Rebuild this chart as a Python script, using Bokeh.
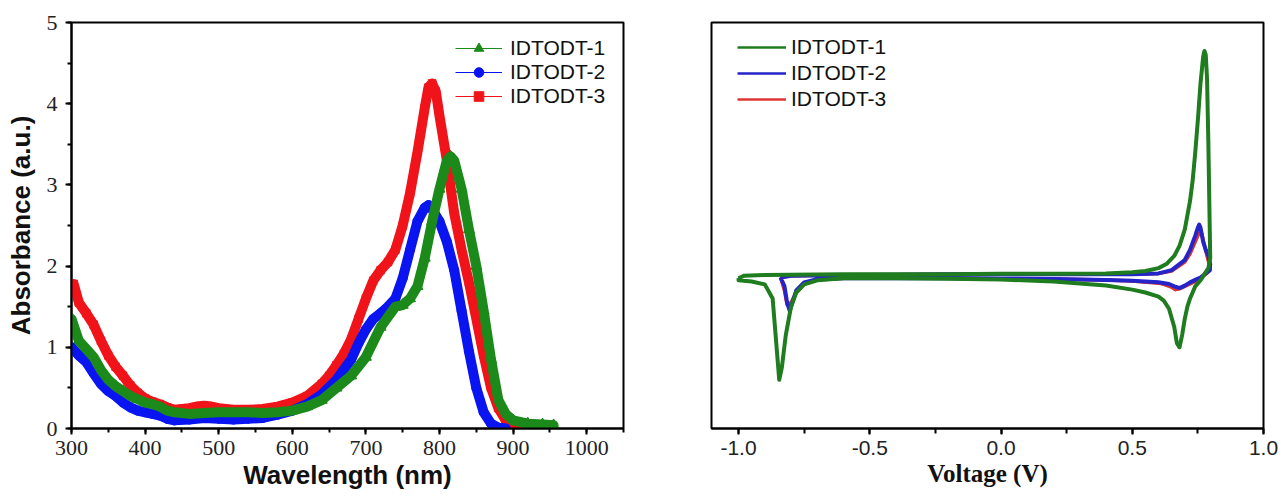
from bokeh.plotting import figure
from bokeh.layouts import row
from bokeh.models import Range1d, SingleIntervalTicker, Legend, LegendItem, PrintfTickFormatter
from bokeh.embed import file_html
from bokeh.resources import INLINE

# ---------------- Left panel: UV-vis absorption ----------------
series_names = ["IDTODT-1", "IDTODT-2", "IDTODT-3"]

wl_1 = [300, 310, 320, 330, 340, 350, 360, 370, 380, 390, 400, 410, 420, 430, 440, 460, 480, 500, 520,
        540, 560, 580, 600, 620, 640, 660, 680, 700, 720, 740, 750, 760, 770, 780, 790, 800, 810, 815,
        820, 830, 840, 850, 860, 870, 880, 890, 900, 920, 940, 955]
abs_1 = [1.35, 1.08, 0.98, 0.88, 0.72, 0.60, 0.52, 0.46, 0.40, 0.36, 0.32, 0.30, 0.27, 0.22, 0.20, 0.18,
         0.19, 0.20, 0.20, 0.20, 0.19, 0.20, 0.22, 0.27, 0.35, 0.50, 0.65, 0.88, 1.25, 1.50, 1.52, 1.60,
         1.75, 2.10, 2.55, 2.95, 3.30, 3.35, 3.30, 2.95, 2.45, 2.00, 1.45, 0.85, 0.35, 0.18, 0.10, 0.06,
         0.05, 0.04]

wl_2 = [300, 310, 320, 330, 340, 350, 360, 370, 380, 390, 400, 410, 420, 430, 440, 460, 480, 500, 520,
        540, 560, 580, 600, 620, 640, 660, 680, 690, 700, 710, 720, 730, 740, 750, 760, 770, 780, 785,
        790, 800, 810, 820, 830, 840, 850, 860, 870, 880, 890]
abs_2 = [1.00, 0.90, 0.82, 0.68, 0.55, 0.46, 0.40, 0.32, 0.26, 0.22, 0.20, 0.18, 0.16, 0.12, 0.10, 0.11,
         0.13, 0.12, 0.11, 0.12, 0.13, 0.17, 0.22, 0.30, 0.42, 0.60, 0.85, 1.05, 1.22, 1.35, 1.42, 1.50,
         1.60, 1.85, 2.20, 2.55, 2.72, 2.75, 2.70, 2.55, 2.30, 1.95, 1.45, 0.95, 0.50, 0.20, 0.06, 0.01,
         0.00]

wl_3 = [300, 303, 310, 320, 330, 340, 350, 360, 370, 380, 390, 400, 410, 420, 430, 440, 450, 460, 470,
        480, 490, 500, 520, 540, 560, 580, 600, 620, 640, 650, 660, 670, 680, 690, 700, 710, 720, 730,
        740, 750, 760, 770, 780, 785, 790, 795, 800, 810, 820, 830, 840, 850, 860, 870, 880, 890, 900, 910]
abs_3 = [1.72, 1.78, 1.55, 1.42, 1.28, 1.08, 0.90, 0.76, 0.65, 0.53, 0.44, 0.37, 0.33, 0.30, 0.26, 0.23,
         0.24, 0.25, 0.27, 0.28, 0.27, 0.25, 0.23, 0.23, 0.24, 0.27, 0.32, 0.40, 0.55, 0.65, 0.78, 0.92,
         1.10, 1.35, 1.60, 1.82, 1.95, 2.05, 2.20, 2.50, 2.90, 3.40, 3.95, 4.20, 4.25, 4.15, 3.85, 3.30,
         2.65, 2.20, 1.80, 1.35, 0.90, 0.50, 0.25, 0.10, 0.03, 0.00]

# ---------------- Right panel: cyclic voltammetry ----------------
v_1 = [-1.0, -0.98, -0.9, -0.8, -0.6, -0.4, -0.2, 0.0, 0.2, 0.4, 0.5, 0.55, 0.6, 0.63, 0.66, 0.68, 0.70,
       0.72, 0.73, 0.74, 0.75, 0.76, 0.77, 0.775, 0.78, 0.785, 0.79, 0.795, 0.797, 0.79, 0.78, 0.76, 0.74,
       0.73, 0.72, 0.71, 0.70, 0.69, 0.68, 0.67, 0.66, 0.64, 0.62, 0.6, 0.55, 0.5, 0.4, 0.2, 0.0, -0.2,
       -0.4, -0.6, -0.7, -0.75, -0.78, -0.8, -0.82, -0.835, -0.845, -0.855, -0.87, -0.9, -0.95, -1.0,
       -1.0]
i_1 = [3.70, 3.76, 3.78, 3.79, 3.80, 3.80, 3.80, 3.81, 3.81, 3.82, 3.85, 3.88, 3.95, 4.05, 4.25, 4.50,
       4.90, 5.60, 6.10, 6.80, 7.60, 8.50, 9.15, 9.30, 9.20, 8.60, 7.00, 5.00, 4.20, 3.95, 3.85, 3.65,
       3.50, 3.35, 3.20, 3.00, 2.70, 2.30, 2.00, 2.10, 2.50, 2.95, 3.15, 3.25, 3.35, 3.42, 3.52, 3.62,
       3.67, 3.69, 3.70, 3.70, 3.65, 3.55, 3.35, 3.00, 2.30, 1.50, 1.20, 2.00, 3.20, 3.55, 3.62, 3.65,
       3.70]

v_2 = [-0.84, -0.8, -0.6, -0.4, -0.2, 0.0, 0.2, 0.4, 0.5, 0.6, 0.65, 0.7, 0.72, 0.74, 0.75, 0.755, 0.76,
       0.77, 0.78, 0.79, 0.797, 0.795, 0.78, 0.76, 0.74, 0.72, 0.70, 0.68, 0.66, 0.64, 0.6, 0.5, 0.4, 0.2,
       0.0, -0.2, -0.4, -0.6, -0.7, -0.75, -0.78, -0.795, -0.805, -0.815, -0.825, -0.835, -0.84]
i_2 = [3.72, 3.76, 3.78, 3.79, 3.80, 3.80, 3.80, 3.80, 3.80, 3.82, 3.90, 4.15, 4.40, 4.75, 4.95, 5.02,
       4.95, 4.60, 4.40, 4.25, 4.05, 3.90, 3.82, 3.72, 3.66, 3.60, 3.52, 3.46, 3.50, 3.56, 3.60, 3.64,
       3.66, 3.68, 3.69, 3.70, 3.70, 3.70, 3.68, 3.60, 3.40, 3.10, 2.90, 3.10, 3.50, 3.65, 3.72]

v_3 = [-0.84, -0.8, -0.6, -0.4, -0.2, 0.0, 0.2, 0.4, 0.5, 0.6, 0.65, 0.7, 0.72, 0.74, 0.75, 0.76, 0.765,
       0.775, 0.785, 0.795, 0.797, 0.78, 0.76, 0.74, 0.72, 0.70, 0.68, 0.665, 0.65, 0.62, 0.6, 0.5, 0.4,
       0.2, 0.0, -0.2, -0.4, -0.6, -0.7, -0.75, -0.78, -0.8, -0.815, -0.825, -0.835, -0.84]
i_3 = [3.72, 3.76, 3.78, 3.79, 3.80, 3.80, 3.80, 3.80, 3.80, 3.82, 3.88, 4.10, 4.30, 4.60, 4.75, 4.85,
       4.80, 4.50, 4.25, 4.00, 3.90, 3.80, 3.70, 3.62, 3.56, 3.50, 3.44, 3.42, 3.48, 3.55, 3.58, 3.63,
       3.66, 3.68, 3.69, 3.70, 3.70, 3.70, 3.66, 3.56, 3.35, 3.10, 3.05, 3.40, 3.62, 3.72]

uv_colors = ["#1b8a1b", "#0a14f0", "#f0141a"]
cv_colors = ["#1f7d1f", "#2424c8", "#e03434"]

SERIF = "Liberation Serif"
SANS = "Liberation Sans"

uv_x = [wl_1, wl_2, wl_3]
uv_y = [abs_1, abs_2, abs_3]
cv_x = [v_1, v_2, v_3]
cv_y = [i_1, i_2, i_3]

# ---------- left figure ----------
p1 = figure(width=640, height=497, frame_width=552, frame_height=406,
            min_border_left=71, min_border_right=17, min_border_top=22, min_border_bottom=69,
            x_range=Range1d(300, 1050), y_range=Range1d(0, 5),
            output_backend="svg", toolbar_location=None)
p1.grid.visible = False
p1.outline_line_color = "black"
p1.outline_line_width = 2

p1.xaxis.ticker = SingleIntervalTicker(interval=100, num_minor_ticks=2)
p1.yaxis.ticker = SingleIntervalTicker(interval=1, num_minor_ticks=2)
for ax in (p1.xaxis[0], p1.yaxis[0]):
    ax.axis_line_width = 2
    ax.major_tick_line_width = 2
    ax.minor_tick_line_width = 2
    ax.major_tick_in = 0
    ax.major_tick_out = 6
    ax.minor_tick_in = 0
    ax.minor_tick_out = 4
    ax.major_label_text_font = SERIF
    ax.major_label_text_font_size = "22px"
    ax.major_label_text_color = "#222222"
    ax.axis_label_text_font = SANS
    ax.axis_label_text_font_style = "bold"
    ax.axis_label_text_font_size = "26px"
    ax.axis_label_text_color = "#111111"
p1.xaxis.axis_label = "Wavelength (nm)"
p1.yaxis.axis_label = "Absorbance (a.u.)"
p1.xaxis.major_label_standoff = 6
p1.yaxis.major_label_standoff = 8
p1.xaxis.axis_label_standoff = 2
p1.yaxis.axis_label_standoff = 8

markers = ["triangle", "circle", "square"]
marker_sizes = [11, 9, 7.5]
items1 = []
# legend proxies (drawn first, hidden under the thick curves)
for k in range(3):
    lr = p1.line(uv_x[k], uv_y[k], line_color=uv_colors[k], line_width=1)
    sr = p1.scatter(uv_x[k], uv_y[k], marker=markers[k], size=marker_sizes[k],
                    fill_color=uv_colors[k], line_color=uv_colors[k])
    items1.append(LegendItem(label=series_names[k], renderers=[lr, sr]))

# thick curves: red, blue, then green on top
for k in (2, 1, 0):
    p1.line(uv_x[k], uv_y[k], line_color=uv_colors[k], line_width=10,
            line_join="round", line_cap="round")

leg1 = Legend(items=items1, location=(384, 320), padding=0, margin=0, spacing=0,
              glyph_width=47, glyph_height=24, label_height=24, label_standoff=8,
              label_text_font=SANS, label_text_font_size="21px", label_text_color="#111111",
              border_line_alpha=0, background_fill_alpha=0)
p1.add_layout(leg1, "center")

# ---------- right figure ----------
p2 = figure(width=640, height=497, frame_width=552, frame_height=406,
            min_border_left=71, min_border_right=17, min_border_top=22, min_border_bottom=69,
            x_range=Range1d(-1.103, 1.0), y_range=Range1d(0, 10),
            output_backend="svg", toolbar_location=None)
p2.grid.visible = False
p2.outline_line_color = "black"
p2.outline_line_width = 2
p2.yaxis.visible = False
p2.xaxis.ticker = SingleIntervalTicker(interval=0.5, num_minor_ticks=2)
p2.xaxis.formatter = PrintfTickFormatter(format="%.1f")
ax = p2.xaxis[0]
ax.axis_line_width = 2
ax.major_tick_line_width = 2
ax.minor_tick_line_width = 2
ax.major_tick_in = 0
ax.major_tick_out = 6
ax.minor_tick_in = 0
ax.minor_tick_out = 5
ax.major_label_text_font = SANS
ax.major_label_text_font_size = "21px"
ax.major_label_text_color = "#222222"
ax.major_label_standoff = 6
ax.axis_label = "Voltage (V)"
ax.axis_label_text_font = SERIF
ax.axis_label_text_font_style = "bold"
ax.axis_label_text_font_size = "25px"
ax.axis_label_text_color = "#111111"
ax.axis_label_standoff = 2

items2 = []
for k in range(3):
    lr = p2.line(cv_x[k], cv_y[k], line_color=cv_colors[k], line_width=2.5)
    items2.append(LegendItem(label=series_names[k], renderers=[lr]))

cv_widths = [4, 4, 3.5]
for k in (2, 1, 0):
    p2.line(cv_x[k], cv_y[k], line_color=cv_colors[k], line_width=cv_widths[k], line_join="round")

leg2 = Legend(items=items2, location=(26, 316), padding=0, margin=0, spacing=0,
              glyph_width=49, glyph_height=26, label_height=26, label_standoff=5,
              label_text_font=SANS, label_text_font_size="21px", label_text_color="#111111",
              border_line_alpha=0, background_fill_alpha=0)
p2.add_layout(leg2, "center")

layout = row(p1, p2, spacing=0)
open("out.html", "w").write(file_html(layout, INLINE))
